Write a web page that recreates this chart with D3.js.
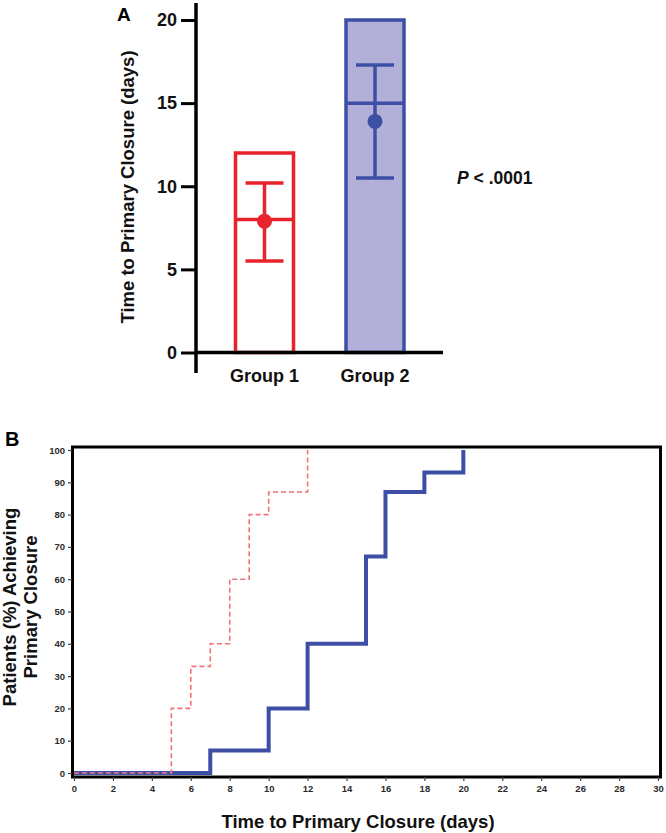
<!DOCTYPE html>
<html><head><meta charset="utf-8">
<script src="https://cdn.jsdelivr.net/npm/d3@7"></script>
<style>body{margin:0;background:#fff}svg{display:block}text{font-family:"Liberation Sans",Arial,sans-serif}</style>
</head><body>
<script>
// Panel A data
const groups = ["Group 1", "Group 2"];
const boxTop = [12, 20];
const medians = [8, 15];
const means = [7.9, 13.9];
const errLow = [5.5, 10.5];
const errHigh = [10.2, 17.3];
const groupColors = ["#e8232b", "#3d4fa5"];
const groupFills = ["#ffffff", "#b2afd9"];
const yTicksA = [0, 5, 10, 15, 20];

// Panel B data
const daysRed = [0, 5, 6, 7, 8, 9, 10, 12];
const pctRed = [0, 20, 33, 40, 60, 80, 87, 100];
const daysBlue = [0, 7, 10, 12, 15, 16, 18, 20];
const pctBlue = [0, 7, 20, 40, 67, 87, 93, 100];
const xTicksB = d3.range(0, 31, 2);
const yTicksB = d3.range(0, 101, 10);

const W = 666, H = 833;
const svg = d3.select("body").append("svg").attr("width", W).attr("height", H);

// ---------- Panel A ----------
const yA = d3.scaleLinear().domain([0, 20]).range([352.5, 20]);
const xA = d3.scalePoint().domain(groups).range([264.5, 375]);
const boxW = 58;
const gA = svg.append("g");

groups.forEach((g, i) => {
  gA.append("rect")
    .attr("x", xA(g) - boxW / 2).attr("y", yA(boxTop[i]))
    .attr("width", boxW).attr("height", yA(0) - yA(boxTop[i]))
    .attr("fill", groupFills[i]).attr("stroke", groupColors[i]).attr("stroke-width", 3.5);
  gA.append("line")
    .attr("x1", xA(g) - boxW / 2).attr("x2", xA(g) + boxW / 2)
    .attr("y1", yA(medians[i])).attr("y2", yA(medians[i]))
    .attr("stroke", groupColors[i]).attr("stroke-width", 3.5);
  gA.append("line")
    .attr("x1", xA(g)).attr("x2", xA(g))
    .attr("y1", yA(errLow[i])).attr("y2", yA(errHigh[i]))
    .attr("stroke", groupColors[i]).attr("stroke-width", 3.5);
  [errLow[i], errHigh[i]].forEach(v => {
    gA.append("line")
      .attr("x1", xA(g) - 19).attr("x2", xA(g) + 19)
      .attr("y1", yA(v)).attr("y2", yA(v))
      .attr("stroke", groupColors[i]).attr("stroke-width", 3.5);
  });
  gA.append("circle").attr("cx", xA(g)).attr("cy", yA(means[i])).attr("r", 7.5)
    .attr("fill", groupColors[i]);
  gA.append("text").attr("x", xA(g)).attr("y", 382).attr("text-anchor", "middle")
    .attr("font-size", 18).attr("font-weight", "bold").attr("fill", "#111").text(g);
});

gA.append("line").attr("x1", 196).attr("x2", 196).attr("y1", 3).attr("y2", 373)
  .attr("stroke", "#000").attr("stroke-width", 3.5);
gA.append("line").attr("x1", 196).attr("x2", 443).attr("y1", yA(0)).attr("y2", yA(0))
  .attr("stroke", "#000").attr("stroke-width", 3.5);
const axA = d3.axisLeft(yA).tickValues(yTicksA).tickSize(15).tickPadding(4);
const gAx = gA.append("g").attr("transform", "translate(196,0)").call(axA);
gAx.select(".domain").remove();
gAx.selectAll(".tick line").attr("stroke", "#000").attr("stroke-width", 3);
gAx.selectAll(".tick text").attr("font-size", 18).attr("font-weight", "bold")
  .attr("fill", "#111").attr("font-family", "Liberation Sans, Arial, sans-serif");

gA.append("text").attr("x", 117).attr("y", 21).attr("font-size", 19).attr("font-weight", "bold").text("A");
gA.append("text").attr("transform", "translate(134,187) rotate(-90)").attr("text-anchor", "middle")
  .attr("font-size", 18.5).attr("font-weight", "bold").attr("fill", "#111")
  .text("Time to Primary Closure (days)");
const pt = gA.append("text").attr("x", 457).attr("y", 184).attr("font-size", 17.5).attr("fill", "#111");
pt.append("tspan").attr("font-style", "italic").attr("font-weight", "bold").text("P");
pt.append("tspan").attr("font-weight", "bold").text(" < .0001");

// ---------- Panel B ----------
const xB = d3.scaleLinear().domain([0, 30]).range([74, 658]);
const yB = d3.scaleLinear().domain([0, 100]).range([773, 450]);
const gB = svg.append("g");

const stepLine = d3.line().x(d => xB(d[0])).y(d => yB(d[1])).curve(d3.curveStepAfter);
gB.append("path").datum(daysBlue.map((d, i) => [d, pctBlue[i]]))
  .attr("d", stepLine).attr("fill", "none").attr("stroke", "#3d4fa5").attr("stroke-width", 4);
gB.append("path").datum(daysRed.map((d, i) => [d, pctRed[i]]))
  .attr("d", stepLine).attr("fill", "none").attr("stroke", "#f07479").attr("stroke-width", 1.6)
  .attr("stroke-dasharray", "5,3");

gB.append("rect").attr("x", 72.5).attr("y", 447).attr("width", 588).attr("height", 330)
  .attr("fill", "none").attr("stroke", "#000").attr("stroke-width", 3);

const axBx = gB.append("g").attr("transform", "translate(0,777)")
  .call(d3.axisBottom(xB).tickValues(xTicksB).tickSize(4).tickPadding(4));
axBx.select(".domain").remove();
const axBy = gB.append("g").attr("transform", "translate(72,0)")
  .call(d3.axisLeft(yB).tickValues(yTicksB).tickSize(4).tickPadding(3));
axBy.select(".domain").remove();
[axBx, axBy].forEach(a => {
  a.selectAll(".tick line").attr("stroke", "#444").attr("stroke-width", 1.2);
  a.selectAll(".tick text").attr("font-size", 9.5).attr("font-weight", "bold")
    .attr("fill", "#2a2a2a").attr("font-family", "DejaVu Sans, Verdana, sans-serif");
});

gB.append("text").attr("x", 5).attr("y", 446).attr("font-size", 20).attr("font-weight", "bold").text("B");
gB.append("text").attr("transform", "translate(16,607) rotate(-90)").attr("text-anchor", "middle")
  .attr("font-size", 18.5).attr("font-weight", "bold").attr("fill", "#111").text("Patients (%) Achieving");
gB.append("text").attr("transform", "translate(37,607) rotate(-90)").attr("text-anchor", "middle")
  .attr("font-size", 18.5).attr("font-weight", "bold").attr("fill", "#111").text("Primary Closure");
gB.append("text").attr("x", 358).attr("y", 828).attr("text-anchor", "middle")
  .attr("font-size", 18.5).attr("font-weight", "bold").attr("fill", "#111")
  .text("Time to Primary Closure (days)");
</script>
</body></html>
